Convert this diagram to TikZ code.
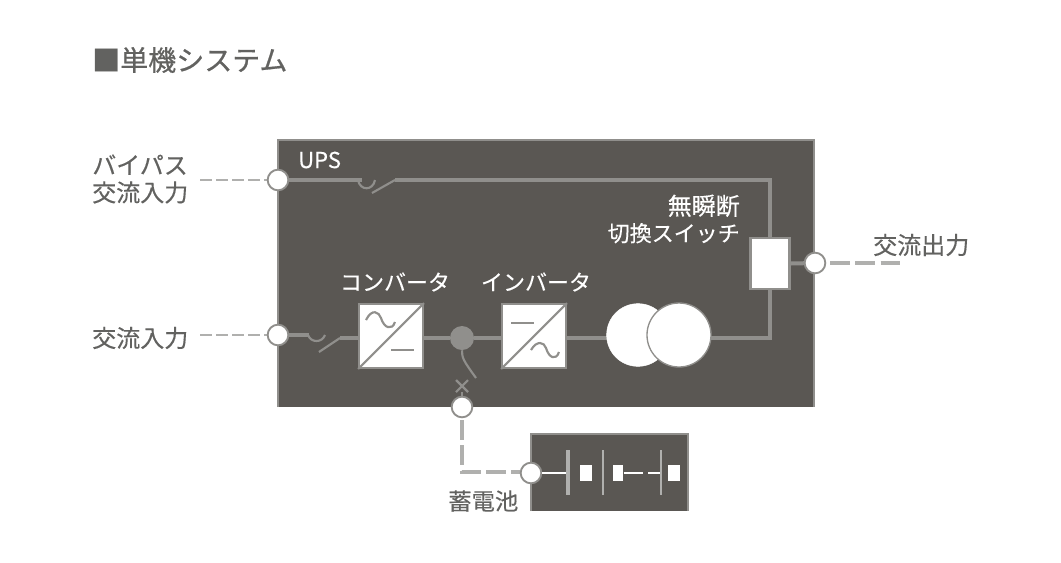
\documentclass[tikz,border=0pt]{standalone}
\usepackage{fontspec}
\setmainfont[FakeBold=0.25]{Noto Sans CJK JP}
\newfontfamily\titlefont[FakeBold=0.7]{Noto Sans CJK JP}
\usepackage{tikz}

\definecolor{upsbg}{HTML}{5A5753}
\definecolor{wire}{HTML}{908F8C}
\definecolor{feed}{HTML}{B0B0AE}
\definecolor{labelgray}{HTML}{626260}
\tikzset{
	port/.style={circle,draw=wire,fill=white,line width=1.4pt,minimum size=15.5pt,inner sep=0pt},
	unitbox/.style={rectangle,draw=wire,fill=white,line width=1.4pt,minimum size=48pt,inner sep=0pt},
	wireline/.style={draw=wire,line width=2.3pt},
	thinline/.style={draw=wire,line width=1.6pt},
	feedline/.style={draw=feed,line width=2.8pt,dash pattern=on 15pt off 4pt},
	inletline/.style={draw=feed,line width=1.8pt,dash pattern=on 9pt off 3pt},
	outer/.style={text=labelgray,font=\fontsize{18}{20.5}\selectfont,align=left,inner sep=0pt},
	inner/.style={text=white,font=\fontsize{16.5}{20}\selectfont,inner sep=0pt},
	cell/.style={rectangle,fill=white,minimum height=11.5pt,inner sep=0pt}
}

\begin{document}
\begin{tikzpicture}[x=0.75pt,y=-0.75pt]
	\useasboundingbox (0,0) rectangle (1061,562);
	\fill[white] (0,0) rectangle (1061,562);
	% casings
	\fill[upsbg] (278,140) rectangle (814,407);
	\draw[wire,line width=1pt] (278,407) -- (278,140) -- (814,140) -- (814,407);
	\fill[upsbg] (531,434) rectangle (688,511);
	\draw[wire,line width=1pt] (531,511) -- (531,434) -- (688,434) -- (688,511);

	\node[text=labelgray,font=\fontsize{21}{24}\titlefont,anchor=west,inner sep=0pt] (title) at (92,60) {■単機システム};
	\node[outer,anchor=west] (bypasslabel) at (92,179) {バイパス\\交流入力};
	\node[outer,anchor=west] (inputlabel) at (92,338) {交流入力};
	\node[outer,anchor=west] (outputlabel) at (873,245) {交流出力};
	\node[outer,anchor=west,font=\fontsize{17.5}{20}\selectfont] (batterylabel) at (448,501) {蓄電池};
	\node[inner,anchor=west] (upslabel) at (298,160) {UPS};
	\node[inner,anchor=center] (convlabel) at (395,282) {コンバータ};
	\node[inner,anchor=center] (invlabel) at (536,282) {インバータ};
	\node[inner,anchor=east,align=right] (switchlabel) at (740,219) {{\fontsize{18}{20}\selectfont 無瞬断}\\切換スイッチ};

	% free ends and corners
	\coordinate (bypassfree) at (200,180);
	\coordinate (inputfree) at (200,335);
	\coordinate (outputfree) at (900,263);
	\coordinate (bypassgap) at (362,180);
	\coordinate (bypassblade) at (395,180);
	\coordinate (bypasscorner) at (770,180);
	\coordinate (inputgap) at (309,335);
	\coordinate (inputblade) at (340,338);
	\coordinate (outcorner) at (770,338);
	\coordinate (feedcorner) at (462,472);

	\draw[inletline] (bypassfree) -- (268,180);
	\draw[inletline] (inputfree) -- (268,335);
	\draw[feedline] (830,263) -- (outputfree);
	\draw[feedline] (462,420) -- (feedcorner) -- (520,472);

	% units
	\node[unitbox] (conv) at (391,336) {};
	\node[unitbox] (inv) at (534,336) {};
	\node[rectangle,draw=wire,fill=white,line width=1.8pt,minimum width=29pt,minimum height=38pt,inner sep=0pt] (bypassswitch) at (770,263.5) {};
	\node[circle,fill=wire,minimum size=18pt,inner sep=0pt] (busdot) at (462,338) {};

	% wiring
	\draw[wireline] (278,180) -- (bypassgap);
	\draw[wireline] (bypassblade) -- (bypasscorner) -- (bypassswitch.north);
	\draw[wireline] (278,335) -- (inputgap);
	\draw[wireline] (inputblade) -- (conv.west |- inputblade);
	\draw[wireline] (conv.east |- busdot) -- (busdot) -- (inv.west |- busdot);
	\draw[wireline] (inv.east |- busdot) -- (630,338);
	\draw[wireline] (680,338) -- (outcorner) -- (bypassswitch.south);
	\draw[wireline,line width=3pt] (bypassswitch.east) -- (815,263);

	% switch blades
	\draw[thinline] (358,180) .. controls (360,191) and (373,191) .. (375,180);
	\draw[thinline] (372,193) -- (bypassblade);
	\draw[thinline] (308,335) .. controls (311,343) and (322,343) .. (325,335);
	\draw[thinline] (319,352) -- (inputblade);
	\draw[thinline] (busdot.south) .. controls (462,358) and (463,360) .. (476,378);
	\draw[thinline] (456,380) -- (468,392) (468,380) -- (456,392);
	\draw[thinline] (462,392) -- (462,400);

	% converter and inverter marks
	\draw[thinline] (conv.south west) -- (conv.north east);
	\draw[thinline] (inv.south west) -- (inv.north east);
	\draw[thinline] (366,320) .. controls (372,308) and (379,312) .. (381,318) .. controls (384,328) and (392,331) .. (395,322);
	\draw[thinline] (391,350) -- (414,350);
	\draw[thinline] (511,323) -- (534,323);
	\draw[thinline] (531,350) .. controls (537,340) and (544,342) .. (546,348) .. controls (549,358) and (556,361) .. (559,352);

	% transformer
	\node[circle,fill=white,draw=white,minimum size=47pt,inner sep=0pt] (coilleft) at (638,335) {};
	\node[circle,fill=white,draw=wire,line width=1pt,minimum size=48pt,inner sep=0pt] (coilright) at (679,335) {};

	% battery
	\node[port] (batteryport) at (531,473) {};
	\draw[white,line width=1.8pt] (batteryport) -- (568,473);
	\draw[feed,line width=3pt] (568,450) -- (568,495);
	\node[cell,minimum width=9pt] (cella) at (586,473) {};
	\draw[feed,line width=2pt] (603,450) -- (603,495);
	\node[cell,minimum width=8pt] (cellb) at (618,473) {};
	\draw[white,line width=1.8pt] (cellb) -- (643,473);
	\draw[white,line width=1.8pt] (648,473) -- (660,473);
	\draw[feed,line width=2pt] (661,450) -- (661,495);
	\node[cell,minimum width=9pt] (cellc) at (674,473) {};

	% ports
	\node[port] (bypassport) at (278,180) {};
	\node[port] (inputport) at (278,335) {};
	\node[port] (outputport) at (815,263) {};
	\node[port] (batteryfeed) at (462,407) {};
\end{tikzpicture}
\end{document}
